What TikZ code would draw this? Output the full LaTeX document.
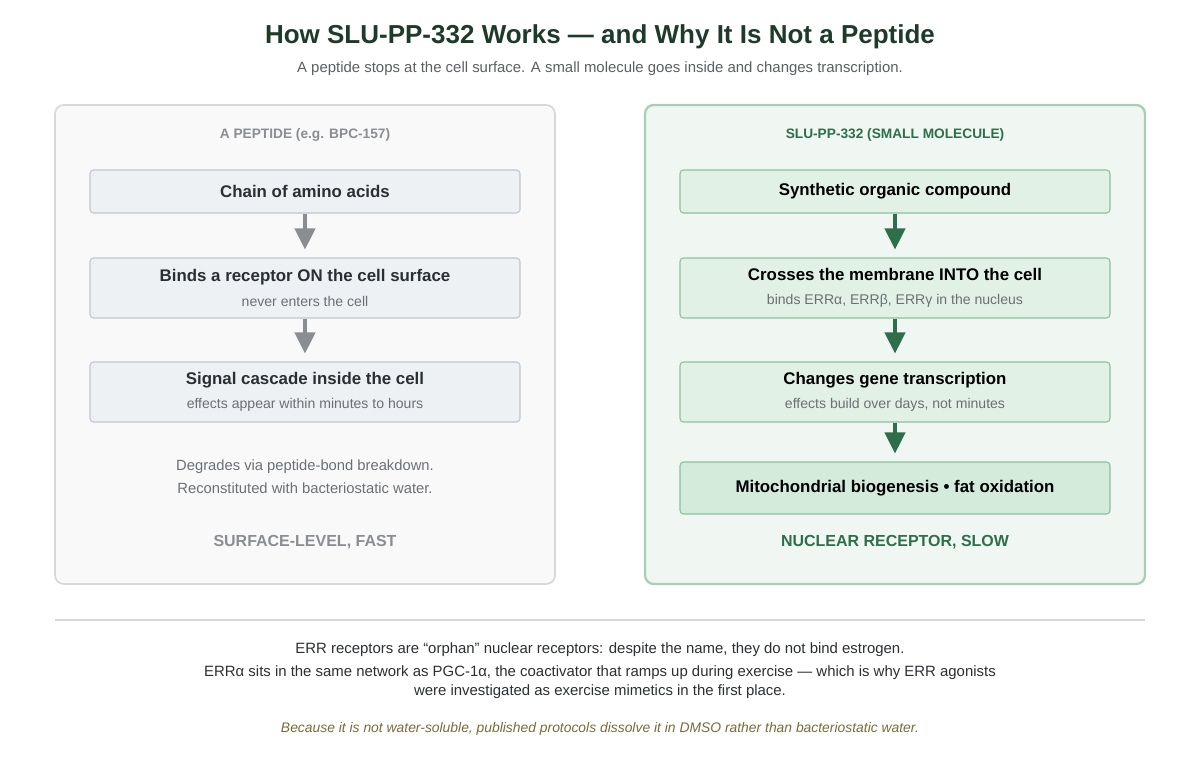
\documentclass[tikz,border=0pt]{standalone}
\usepackage{fontspec}
\setmainfont{Liberation Sans}
\usetikzlibrary{positioning,arrows.meta,shapes.geometric}
\definecolor{titlegreen}{HTML}{1D3A2A}
\definecolor{subgray}{HTML}{5A5F63}
\definecolor{pgray}{HTML}{8A8D91}
\definecolor{ptext}{HTML}{6B7075}
\definecolor{pfill}{HTML}{F9F9F9}
\definecolor{pline}{HTML}{D8D8D8}
\definecolor{bfill}{HTML}{EEF1F4}
\definecolor{bline}{HTML}{C0C6CC}
\definecolor{dgreen}{HTML}{2E6E4A}
\definecolor{gfill}{HTML}{F0F7F2}
\definecolor{gline}{HTML}{A8CFB5}
\definecolor{gbfill}{HTML}{E2F1E6}
\definecolor{gbline}{HTML}{8CC09C}
\definecolor{gbdark}{HTML}{D4EADB}
\definecolor{darktext}{HTML}{2A2F33}
\definecolor{notebrown}{HTML}{7A6A3A}
\begin{document}
\begin{tikzpicture}[
        x=0.02cm, y=-0.02cm,
        panel/.style={draw=pline, line width=1pt, fill=pfill, rounded corners=5pt},
        gpanel/.style={draw=gline, line width=1.3pt, fill=gfill, rounded corners=5pt},
        box/.style={draw=bline, fill=bfill, rounded corners=2pt, line width=0.6pt,
                     minimum width=430*0.02cm, align=center, text=darktext, inner sep=2pt},
        gbox/.style={box, draw=gbline, fill=gbfill, text=black},
        small/.style={font=\fontsize{8.4}{10}\selectfont},
        grayflow/.style={-{Triangle[width=11.5pt,length=12pt]}, line width=2pt, draw=pgray, shorten >=4.5pt},
        greenflow/.style={grayflow, draw=dgreen}
      ]
        \useasboundingbox (0,0) rectangle (1200,760);
        % Title
        \node[font=\fontsize{14.8}{17}\selectfont\bfseries, text=titlegreen] (title) at (600,37) {How SLU-PP-332 Works — and Why It Is Not a Peptide};
        \node[font=\fontsize{8.5}{10}\selectfont, text=subgray] (subtitle) at (600,69) {A peptide stops at the cell surface. A small molecule goes inside and changes transcription.};

        % Panels
        \draw[panel] (55,105) rectangle (555,584);
        \draw[gpanel] (645,105) rectangle (1145,584);

        % Left column
        \node[font=\fontsize{7.8}{9}\selectfont\bfseries, text=pgray] (lhead) at (305,135) {A PEPTIDE (e.g. BPC-157)};
        \node[box, minimum height=43*0.02cm] (chain) at (305,191.5) {\fontsize{9.6}{11}\selectfont\bfseries Chain of amino acids};
        \node[box, minimum height=60*0.02cm] (binds) at (305,288) {{\fontsize{9.6}{11}\selectfont\bfseries Binds a receptor ON the cell surface}\\[2pt] {\fontsize{8}{9}\selectfont\color{ptext} never enters the cell}};
        \node[box, minimum height=60*0.02cm] (cascade) at (305,392) {{\fontsize{9.6}{11}\selectfont\bfseries Signal cascade inside the cell}\\[2pt] {\fontsize{8}{9}\selectfont\color{ptext} effects appear within minutes to hours}};
        \draw[grayflow] (chain) -- (binds);
        \draw[grayflow] (binds) -- (cascade);
        \node[small, text=ptext, align=center] (lnote) at (305,477) {Degrades via peptide-bond breakdown.\\[3pt] Reconstituted with bacteriostatic water.};
        \node[font=\fontsize{9.1}{10}\selectfont\bfseries, text=pgray] (lfoot) at (305,542) {SURFACE-LEVEL, FAST};

        % Right column
        \node[font=\fontsize{7.8}{9}\selectfont\bfseries, text=dgreen] (rhead) at (895,135) {SLU-PP-332 (SMALL MOLECULE)};
        \node[gbox, minimum height=43*0.02cm] (synth) at (895,191.5) {\fontsize{9.6}{11}\selectfont\bfseries Synthetic organic compound};
        \node[gbox, minimum height=60*0.02cm] (cross) at (895,288) {{\fontsize{9.6}{11}\selectfont\bfseries Crosses the membrane INTO the cell}\\[2pt] {\fontsize{8}{9}\selectfont\color{ptext} binds ERRα, ERRβ, ERRγ in the nucleus}};
        \node[gbox, minimum height=60*0.02cm] (gene) at (895,392) {{\fontsize{9.6}{11}\selectfont\bfseries Changes gene transcription}\\[2pt] {\fontsize{8}{9}\selectfont\color{ptext} effects build over days, not minutes}};
        \node[gbox, fill=gbdark, minimum height=52*0.02cm] (mito) at (895,488) {\fontsize{9.6}{11}\selectfont\bfseries Mitochondrial biogenesis • fat oxidation};
        \draw[greenflow] (synth) -- (cross);
        \draw[greenflow] (cross) -- (gene);
        \draw[greenflow] (gene) -- (mito);
        \node[font=\fontsize{9.1}{10}\selectfont\bfseries, text=dgreen] (rfoot) at (895,542) {NUCLEAR RECEPTOR, SLOW};

        % Bottom notes
        \draw[pline, line width=0.6pt] (55,620) -- (1145,620);
        \node[font=\fontsize{8.5}{10}\selectfont, text=darktext, align=center] (note) at (600,671) {ERR receptors are “orphan” nuclear receptors: despite the name, they do not bind estrogen.\\[3pt] ERRα sits in the same network as PGC-1α, the coactivator that ramps up during exercise — which is why ERR agonists\\[1pt] were investigated as exercise mimetics in the first place.};
        \node[font=\fontsize{7.9}{9}\selectfont\itshape, text=notebrown] (dmso) at (600,729) {Because it is not water-soluble, published protocols dissolve it in DMSO rather than bacteriostatic water.};
    \end{tikzpicture}
\end{document}
